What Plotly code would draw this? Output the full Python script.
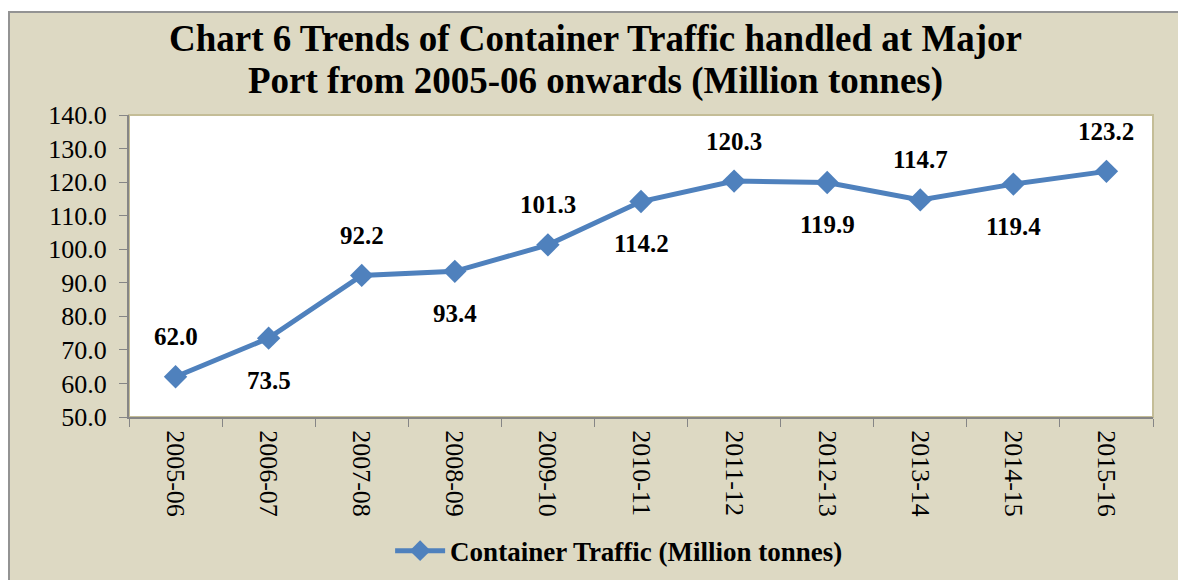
import plotly.graph_objects as go

years = ["2005-06", "2006-07", "2007-08", "2008-09", "2009-10", "2010-11",
         "2011-12", "2012-13", "2013-14", "2014-15", "2015-16"]
traffic = [62.0, 73.5, 92.2, 93.4, 101.3, 114.2, 120.3, 119.9, 114.7, 119.4, 123.2]
label_side = ["above", "below", "above", "below", "above", "below",
              "above", "below", "above", "below", "above"]
title_lines = ["Chart 6 Trends of Container Traffic handled at Major",
               "Port from 2005-06 onwards (Million tonnes)"]

BLUE = "#4F81BD"
BEIGE = "#DDD9C3"
SERIF = "Liberation Serif, Times New Roman, serif"

# the page body adds an 8px margin; the bottom few pixels just run off-screen
W, H = 1178, 580
L, T, PW, PH = 121, 107, 1024, 302

fig = go.Figure()
fig.add_trace(
    go.Scatter(
        x=years, y=traffic, mode="lines+markers",
        name="Container Traffic (Million tonnes)",
        line=dict(color=BLUE, width=5),
        marker=dict(symbol="diamond", size=18, color=BLUE),
    )
)

for yr, val, side in zip(years, traffic, label_side):
    fig.add_annotation(
        x=yr, y=val, text=f"{val:.1f}", showarrow=False,
        yshift=40 if side == "above" else -42,
        font=dict(family=SERIF, size=25, color="black", weight="bold"),
    )

# two-line title, placed separately for tighter line spacing
for line, ypos in zip(title_lines, [1.252, 1.112]):
    fig.add_annotation(
        text=line, xref="paper", yref="paper", x=0.456, y=ypos,
        xanchor="center", yanchor="middle", showarrow=False,
        font=dict(family=SERIF, size=37, color="black", weight="bold"),
    )

# outer chart frame (beige panel with grey border)
fig.add_shape(
    type="rect", xref="paper", yref="paper", layer="below",
    x0=(1 - L) / PW, x1=1.06, y0=-0.6, y1=(T + PH - 4) / PH,
    fillcolor=BEIGE, line=dict(color="#939393", width=2),
)
# plot area (white with tan border)
fig.add_shape(
    type="rect", xref="paper", yref="paper", layer="below",
    x0=0, x1=1, y0=0, y1=1,
    fillcolor="white", line=dict(color="#C4BD97", width=2),
)

fig.update_layout(
    width=W, height=H,
    margin=dict(l=L, r=W - L - PW, t=T, b=H - T - PH),
    paper_bgcolor="white", plot_bgcolor="rgba(0,0,0,0)",
    showlegend=True,
    legend=dict(
        orientation="h", x=0.255, xanchor="left", y=-0.444, yanchor="middle",
        bgcolor="rgba(0,0,0,0)",
        font=dict(family=SERIF, size=27, color="black", weight="bold"),
        itemwidth=50,
    ),
    xaxis=dict(
        type="category", range=[-0.5, 10.5],
        tickangle=90, ticks="outside", ticklen=8, tickcolor="#868686",
        tickson="boundaries", ticklabelstandoff=6,
        showline=True, linecolor="#868686", linewidth=2,
        showgrid=False, zeroline=False,
        tickfont=dict(family=SERIF, size=26, color="black"),
    ),
    yaxis=dict(
        range=[50, 140], dtick=10, tickformat=".1f",
        ticks="outside", ticklen=8, tickcolor="#868686",
        ticklabelstandoff=7,
        showline=True, linecolor="#868686", linewidth=2,
        showgrid=False, zeroline=False,
        tickfont=dict(family=SERIF, size=26, color="black"),
    ),
)

fig.write_html("out.html")
